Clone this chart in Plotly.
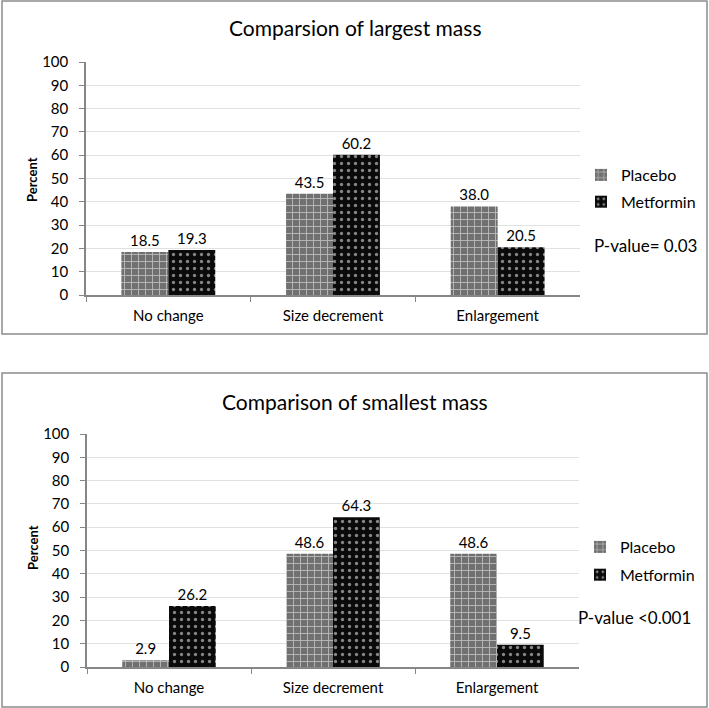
import plotly.graph_objects as go

categories = ["No change", "Size decrement", "Enlargement"]
largest_placebo = [18.5, 43.5, 38.0]
largest_metformin = [19.3, 60.2, 20.5]
smallest_placebo = [2.9, 48.6, 48.6]
smallest_metformin = [26.2, 64.3, 9.5]
series_names = ["Placebo", "Metformin"]
titles = ["Comparsion of largest mass", "Comparison of smallest mass"]
pvalues = ["P-value= 0.03", "P-value <0.001"]
yticks = list(range(0, 101, 10))

W, H = 709, 708
FONT = "Lato"

def px(x):
    return x / W

def py(y):
    return 1 - y / H

placebo_pattern = dict(shape="+", fgcolor="white", bgcolor="#707070", size=7, solidity=0.25)
metformin_pattern = dict(shape=".", fgcolor="white", bgcolor="#0a0a0a", size=7, solidity=0.18)

fig = go.Figure()

panels = [
    dict(p=largest_placebo, m=largest_metformin, xa="x", ya="y", leg="legend",
         xd=[px(86), px(580)], yd=[py(295), py(62)]),
    dict(p=smallest_placebo, m=smallest_metformin, xa="x2", ya="y2", leg="legend2",
         xd=[px(87), px(579)], yd=[py(667), py(434)]),
]

for i, pn in enumerate(panels):
    fig.add_trace(go.Bar(
        x=categories, y=pn["p"], name=series_names[0], xaxis=pn["xa"], yaxis=pn["ya"],
        legend=pn["leg"], legendgroup=f"p{i}",
        marker=dict(color="#707070", pattern=placebo_pattern, line=dict(width=0)),
        text=[f"{v:.1f}" for v in pn["p"]], textposition="outside",
        textfont=dict(family=FONT, size=15, color="black"), cliponaxis=False,
    ))
    fig.add_trace(go.Bar(
        x=categories, y=pn["m"], name=series_names[1], xaxis=pn["xa"], yaxis=pn["ya"],
        legend=pn["leg"], legendgroup=f"m{i}",
        marker=dict(color="#0a0a0a", pattern=metformin_pattern, line=dict(width=0)),
        text=[f"{v:.1f}" for v in pn["m"]], textposition="outside",
        textfont=dict(family=FONT, size=15, color="black"), cliponaxis=False,
    ))

axis_common_x = dict(
    type="category", showline=True, linecolor="#868686", linewidth=1.5,
    ticks="outside", tickson="boundaries", ticklen=5, tickcolor="#868686",
    tickfont=dict(family=FONT, size=15, color="black"), showgrid=False,
    ticklabelstandoff=6, fixedrange=True, automargin=False,
)
axis_common_y = dict(
    range=[0, 100], tickvals=yticks, showline=True, linecolor="#868686", linewidth=1.5,
    ticks="outside", ticklen=5, tickcolor="#868686",
    tickfont=dict(family=FONT, size=15, color="black"),
    showgrid=True, gridcolor="#dfe3e0", gridwidth=1, zeroline=False,
    ticklabelstandoff=8, fixedrange=True, automargin=False,
)

fig.update_layout(
    width=W, height=H, margin=dict(l=0, r=0, t=0, b=0, pad=0, autoexpand=False),
    paper_bgcolor="white", plot_bgcolor="white",
    barmode="group", bargap=0.43, bargroupgap=0,
    showlegend=True,
    xaxis=dict(domain=panels[0]["xd"], anchor="y", **axis_common_x),
    yaxis=dict(domain=panels[0]["yd"], anchor="x", **axis_common_y),
    xaxis2=dict(domain=panels[1]["xd"], anchor="y2", **axis_common_x),
    yaxis2=dict(domain=panels[1]["yd"], anchor="x2", **axis_common_y),
    legend=dict(x=px(581), y=py(158), xanchor="left", yanchor="top",
                font=dict(family=FONT, size=16, color="black"),
                tracegroupgap=3, itemwidth=30, bgcolor="rgba(0,0,0,0)"),
    legend2=dict(x=px(580), y=py(530), xanchor="left", yanchor="top",
                 font=dict(family=FONT, size=16, color="black"),
                 tracegroupgap=4, itemwidth=30, bgcolor="rgba(0,0,0,0)"),
    font=dict(family=FONT, color="black"),
)

# panel borders
for (x0, y0, x1, y1) in [(2, 1, 707, 334), (2, 373, 707, 707)]:
    fig.add_shape(type="rect", xref="paper", yref="paper",
                  x0=px(x0), x1=px(x1), y0=py(y1), y1=py(y0),
                  line=dict(color="#8c8c8c", width=1.5), fillcolor="rgba(0,0,0,0)")

annotations = [
    dict(text=titles[0], x=0.5, y=py(28), font=dict(size=21)),
    dict(text=titles[1], x=0.5, y=py(401), font=dict(size=21)),
    dict(text="<b>Percent</b>", x=px(32), y=py(180), textangle=-90, font=dict(size=13)),
    dict(text="<b>Percent</b>", x=px(33), y=py(548), textangle=-90, font=dict(size=13)),
    dict(text=pvalues[0], x=px(645), y=py(246), font=dict(size=17)),
    dict(text=pvalues[1], x=px(634), y=py(617), font=dict(size=17)),
]
for a in annotations:
    fig.add_annotation(xref="paper", yref="paper", showarrow=False,
                       xanchor="center", yanchor="middle",
                       font=dict(family=FONT, color="black", size=a["font"]["size"]),
                       **{k: v for k, v in a.items() if k != "font"})

fig.write_html("out.html", config={"displayModeBar": False},
               post_script="document.body.style.margin='0';document.body.style.overflow='hidden';")
